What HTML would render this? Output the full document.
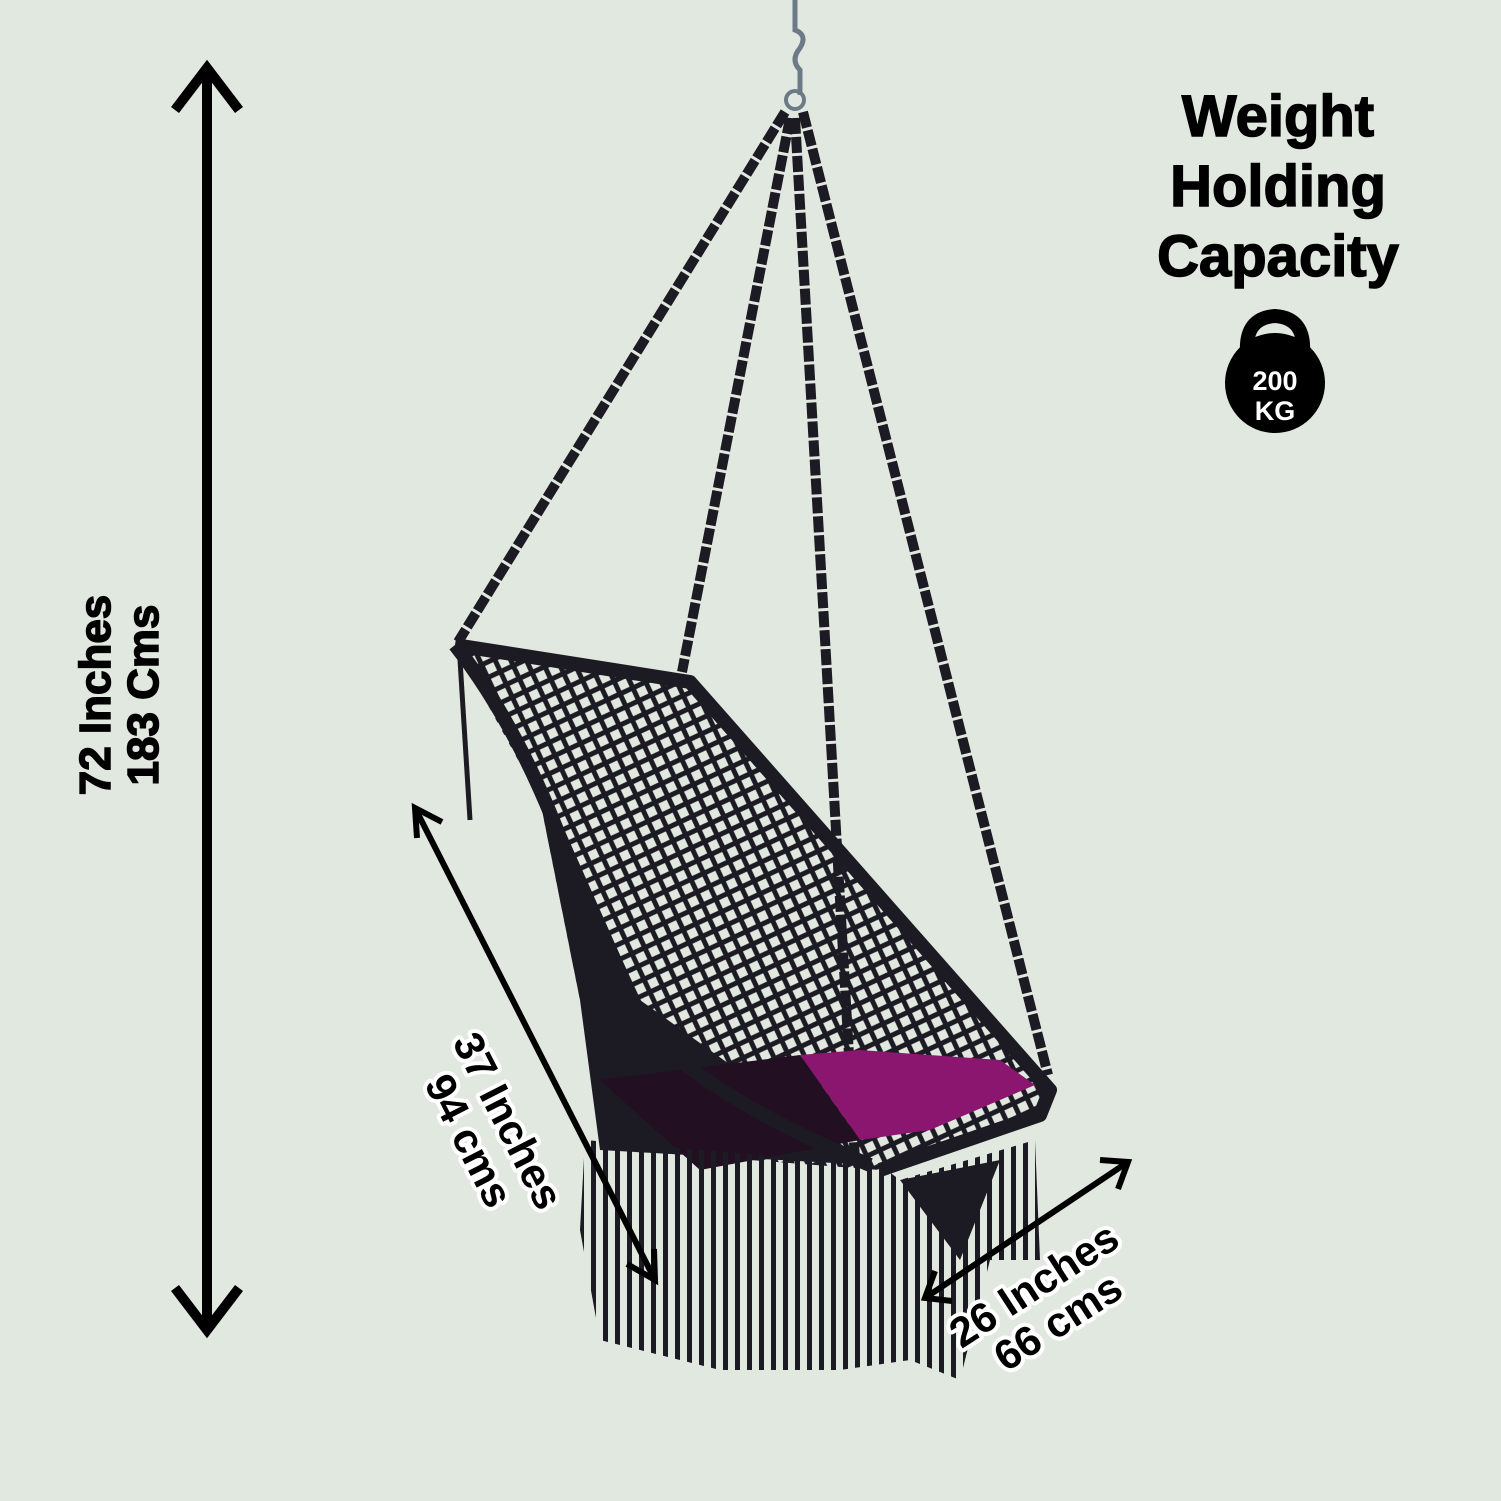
<!DOCTYPE html>
<html><head><style>
html,body{margin:0;padding:0;background:#e1e8df;}
svg{display:block}
text{font-family:"Liberation Sans",Arial,sans-serif;font-weight:bold;}
</style></head><body>
<svg width="1501" height="1501" viewBox="0 0 1501 1501" xmlns="http://www.w3.org/2000/svg">
<defs>
<pattern id="mesh" width="20" height="20" patternUnits="userSpaceOnUse" patternTransform="rotate(20)">
<path d="M0 0 L10 10 L20 0 M0 20 L10 10 L20 20" stroke="#1c1a22" stroke-width="5" fill="none"/>
</pattern>
<pattern id="fringe" width="12" height="300" patternUnits="userSpaceOnUse">
<rect x="3" y="0" width="5" height="300" fill="#1c1a22"/>
</pattern>
</defs>
<rect width="1501" height="1501" fill="#e1e8df"/>
<line x1="207" y1="68" x2="207" y2="1328" stroke="#000" stroke-width="10"/>
<polyline points="175,110 207,68 239,110" fill="none" stroke="#000" stroke-width="10"/>
<polyline points="175,1288 207,1330 239,1288" fill="none" stroke="#000" stroke-width="10"/>
<g transform="translate(118,695) rotate(-90)" stroke="#000" stroke-width="1.5">
<text x="0" y="-8" font-size="44" text-anchor="middle">72 Inches</text>
<text x="0" y="40" font-size="44" text-anchor="middle">183 Cms</text>
</g>
<g stroke="#000" stroke-width="1.5">
<text x="1278" y="136" font-size="58" text-anchor="middle">Weight</text>
<text x="1278" y="206" font-size="58" text-anchor="middle">Holding</text>
<text x="1278" y="276" font-size="58" text-anchor="middle">Capacity</text>
</g>
<path d="M1247 352 Q1245 318 1275 316 Q1305 318 1303 352" fill="none" stroke="#000" stroke-width="14"/>
<circle cx="1275" cy="383" r="50" fill="#000"/>
<text x="1275" y="390" font-size="27" fill="#fff" text-anchor="middle">200</text>
<text x="1275" y="420" font-size="27" fill="#fff" text-anchor="middle">KG</text>
<path d="M795 0 L795 30 Q808 35 800 48 Q790 60 800 70 L800 95" fill="none" stroke="#6b7a86" stroke-width="5"/>
<circle cx="795" cy="100" r="9" fill="none" stroke="#6b7a86" stroke-width="4"/>
<g stroke="#1c1a22" stroke-width="10" fill="none" stroke-dasharray="16 3">
<line x1="785" y1="112" x2="458" y2="642"/>
<line x1="790" y1="118" x2="682" y2="672"/>
<line x1="795" y1="118" x2="855" y2="1160"/>
<line x1="803" y1="112" x2="1048" y2="1075"/>
</g>
<polygon points="455,645 690,682 1050,1090 1040,1115 880,1170 620,1150 580,1000 540,800" fill="url(#mesh)"/>
<polygon points="470,660 540,800 580,1000 600,1150 870,1165 640,1000 560,820" fill="#1c1a22"/>
<polygon points="800,1055 860,1050 1000,1060 1035,1085 930,1130 860,1140" fill="#8a1670"/>
<polygon points="600,1080 800,1055 860,1140 700,1170" fill="#220f22"/>
<g stroke="#1c1a22" stroke-width="14" fill="none" stroke-linejoin="round">
<path d="M455 645 L690 682 L1050 1090 L1040 1115 L880 1170"/>
<path d="M455 645 Q545 760 600 960 Q640 1070 870 1165"/>
</g>
<polygon points="585,1140 880,1165 900,1180 1035,1140 1040,1260 990,1260 960,1380 910,1360 840,1370 720,1370 600,1340 580,1230" fill="url(#fringe)"/>
<polygon points="900,1180 1000,1160 960,1260" fill="#1c1a22"/>
<path d="M460 660 L465 740 L470 820" stroke="#1c1a22" stroke-width="5" fill="none"/>
<g stroke="#000" stroke-width="6" fill="none">
<line x1="415" y1="808" x2="655" y2="1280"/>
<polyline points="417,838 415,808 442,822"/>
<polyline points="627,1264 655,1280 654,1249"/>
<line x1="925" y1="1298" x2="1128" y2="1162"/>
<polyline points="952,1301 925,1298 935,1271"/>
<polyline points="1100,1160 1128,1162 1118,1189"/>
</g>
<g transform="translate(490,1130) rotate(63)" font-size="42" text-anchor="middle" fill="#000" stroke="#fff" stroke-width="8" paint-order="stroke" stroke-linejoin="round">
<text x="0" y="-6">37 Inches</text>
<text x="0" y="38">94 cms</text>
</g>
<g transform="translate(1045,1302) rotate(-33)" font-size="42" text-anchor="middle" fill="#000" stroke="#fff" stroke-width="8" paint-order="stroke" stroke-linejoin="round">
<text x="0" y="-6">26 Inches</text>
<text x="0" y="38">66 cms</text>
</g>
</svg>
</body></html>
